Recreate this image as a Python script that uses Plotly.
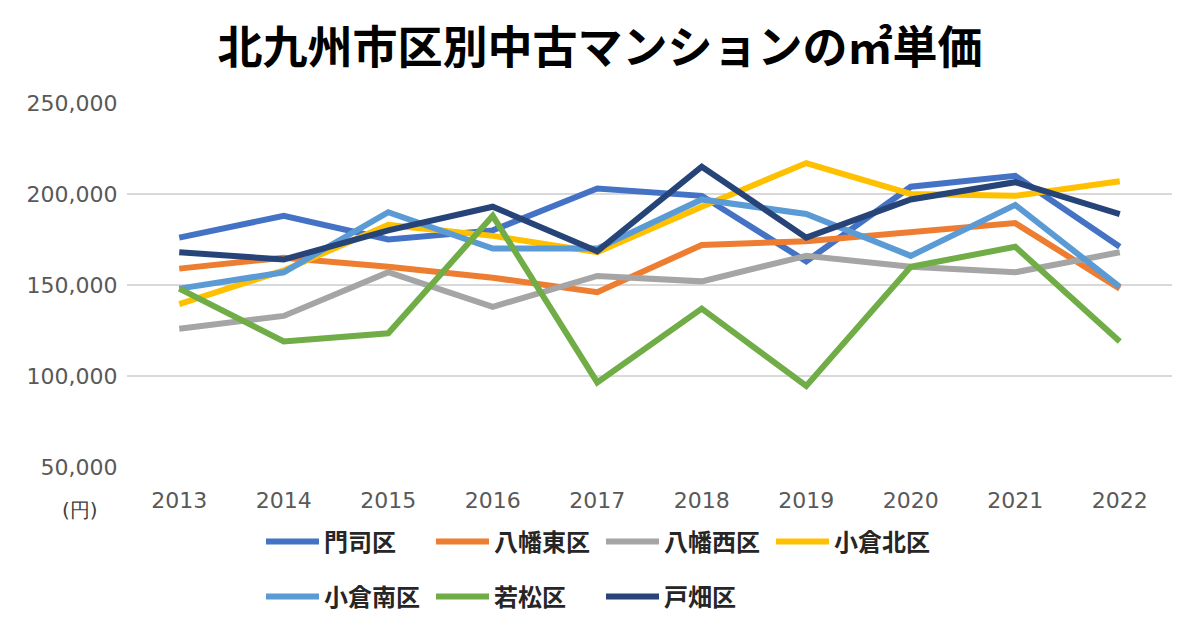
import plotly.graph_objects as go

years = ["2013", "2014", "2015", "2016", "2017", "2018", "2019", "2020", "2021", "2022"]

moji = [176000, 188000, 175000, 180000, 203000, 199000, 163000, 204000, 210000, 171000]
yahata_higashi = [159000, 165000, 160000, 154000, 146000, 172000, 174000, 179000, 184000, 148000]
yahata_nishi = [126000, 133000, 157000, 138000, 155000, 152000, 166000, 160000, 157000, 168000]
kokura_kita = [139500, 158000, 183000, 177000, 168000, 193000, 217000, 200000, 199000, 207000]
kokura_minami = [148000, 157000, 190000, 170000, 170000, 197000, 189000, 166000, 194000, 149000]
wakamatsu = [148000, 119000, 123500, 188000, 96500, 137000, 94500, 160000, 171000, 119000]
tobata = [168000, 164000, 180000, 193000, 168500, 215000, 176000, 197000, 206500, 189000]

series = [
    ("門司区", moji, "#4472C4", "legend"),
    ("八幡東区", yahata_higashi, "#ED7D31", "legend"),
    ("八幡西区", yahata_nishi, "#A5A5A5", "legend"),
    ("小倉北区", kokura_kita, "#FFC000", "legend"),
    ("小倉南区", kokura_minami, "#5B9BD5", "legend2"),
    ("若松区", wakamatsu, "#70AD47", "legend2"),
    ("戸畑区", tobata, "#264478", "legend2"),
]

tick_vals = [50000, 100000, 150000, 200000, 250000]
tick_text = ["50,000", "100,000", "150,000", "200,000", "250,000"]

fig = go.Figure()
for name, vals, color, lg in series:
    fig.add_trace(go.Scatter(
        x=years, y=vals, name=name, mode="lines",
        line=dict(color=color, width=6),
        legend=lg,
    ))

cjk = "Noto Sans CJK JP"
tick_font = dict(family="DejaVu Sans", size=22, color="#595959")
legend_font = dict(family=cjk, size=24, color="#262626", weight="bold")

L, R, T, B = 127, 1172, 103, 467
W, H = 1200, 630

fig.update_layout(
    width=W, height=H,
    paper_bgcolor="white", plot_bgcolor="white",
    margin=dict(l=L, r=W - R, t=T, b=H - B, autoexpand=False),
    title=dict(
        text="<b>北九州市区別中古マンションの㎡単価</b>",
        font=dict(family=cjk, size=45, color="#000000"),
        x=0.5, xanchor="center", xref="container",
        y=1 - 48 / H, yanchor="middle", yref="container",
    ),
    xaxis=dict(
        type="category", range=[-0.5, 9.5], automargin=False,
        showgrid=False, zeroline=False, showline=False,
        ticks="outside", ticklen=14, tickcolor="rgba(0,0,0,0)",
        tickfont=tick_font,
    ),
    yaxis=dict(
        range=[50000, 250000], tickvals=tick_vals, ticktext=tick_text,
        automargin=False,
        showgrid=True, gridcolor="#D9D9D9", gridwidth=2,
        zeroline=False, showline=False,
        ticks="outside", ticklen=4, tickcolor="rgba(0,0,0,0)",
        tickfont=tick_font,
    ),
    legend=dict(
        orientation="h", xref="container", yref="container",
        x=261 / W, xanchor="left", y=1 - 542 / H, yanchor="middle",
        font=legend_font, entrywidth=102, entrywidthmode="pixels",
        itemwidth=53, bgcolor="rgba(0,0,0,0)",
    ),
    legend2=dict(
        orientation="h", xref="container", yref="container",
        x=261 / W, xanchor="left", y=1 - 597 / H, yanchor="middle",
        font=legend_font, entrywidth=102, entrywidthmode="pixels",
        itemwidth=53, bgcolor="rgba(0,0,0,0)",
    ),
    showlegend=True,
    annotations=[dict(
        text="(円)", xref="paper", yref="paper",
        x=(80 - L) / (R - L), y=-(510 - B) / (B - T),
        xanchor="center", yanchor="middle", showarrow=False,
        font=dict(family="DejaVu Sans", size=20, color="#404040"),
    )],
)

fig.write_html("out.html", config={"displayModeBar": False},
               post_script="document.body.style.margin='0';")
